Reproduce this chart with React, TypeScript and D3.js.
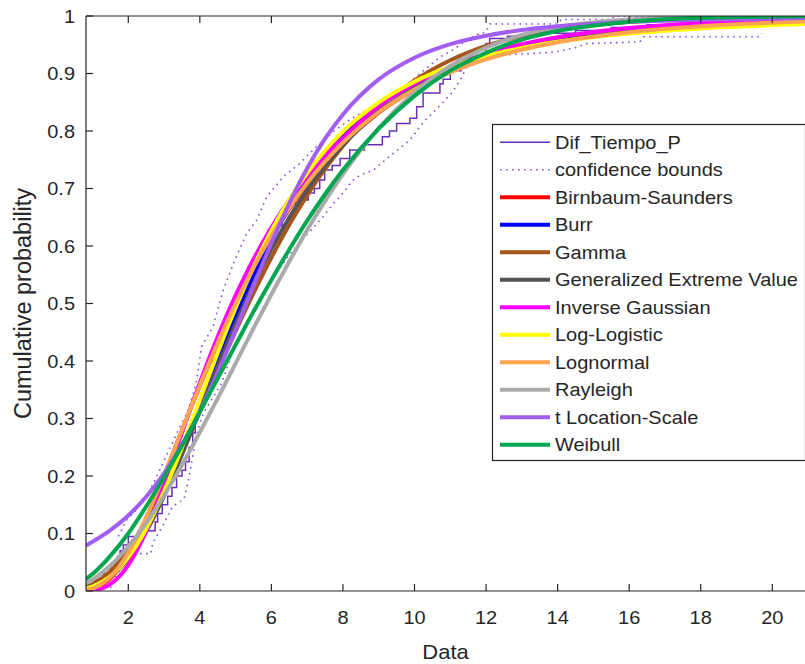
import React from "react";
import * as d3 from "d3";

// ---- data ----
const xGrid = [0.82, 1, 1.5, 2, 2.5, 3, 3.5, 4, 4.5, 5, 5.5, 6, 6.5, 7, 7.5, 8, 9, 10, 11, 12, 13, 14, 16, 18, 21];

const birnbaumSaunders = [0.001, 0.0035, 0.022, 0.064, 0.126, 0.2, 0.279, 0.357, 0.431, 0.499, 0.561, 0.616, 0.665, 0.708, 0.745, 0.778, 0.832, 0.872, 0.903, 0.926, 0.943, 0.956, 0.974, 0.984, 0.992];
const burr = [0.004, 0.007, 0.025, 0.058, 0.107, 0.17, 0.243, 0.322, 0.402, 0.478, 0.549, 0.612, 0.667, 0.715, 0.757, 0.792, 0.845, 0.883, 0.911, 0.932, 0.947, 0.959, 0.974, 0.983, 0.99];
const gamma = [0.0071, 0.012, 0.0343, 0.07, 0.1186, 0.177, 0.243, 0.3125, 0.383, 0.452, 0.518, 0.58, 0.637, 0.688, 0.734, 0.774, 0.84, 0.888, 0.923, 0.948, 0.965, 0.9766, 0.9898, 0.9956, 0.9988];
const genExtremeValue = [0.0052, 0.0083, 0.0248, 0.0559, 0.1035, 0.1653, 0.2372, 0.3139, 0.3907, 0.4645, 0.5329, 0.5947, 0.6495, 0.6977, 0.7395, 0.7756, 0.8332, 0.8753, 0.9061, 0.9288, 0.9455, 0.9579, 0.9743, 0.9838, 0.9914];
const inverseGaussian = [0.0003, 0.001, 0.012, 0.045, 0.104, 0.185, 0.275, 0.362, 0.442, 0.514, 0.577, 0.632, 0.68, 0.721, 0.757, 0.788, 0.843, 0.882, 0.912, 0.934, 0.951, 0.963, 0.979, 0.988, 0.995];
const logLogistic = [0.0043, 0.0077, 0.0255, 0.0585, 0.1082, 0.1733, 0.2498, 0.3319, 0.4144, 0.4925, 0.5636, 0.6265, 0.6808, 0.727, 0.7661, 0.799, 0.8498, 0.8859, 0.9118, 0.9306, 0.9446, 0.9552, 0.9695, 0.9784, 0.9863];
const lognormal = [0.0015, 0.0042, 0.0243, 0.0666, 0.128, 0.2014, 0.2796, 0.3575, 0.4317, 0.5003, 0.5623, 0.6178, 0.6667, 0.7096, 0.7471, 0.7797, 0.8326, 0.8722, 0.902, 0.9245, 0.9414, 0.9544, 0.9718, 0.9822, 0.9907];
const rayleigh = [0.0135, 0.02, 0.0443, 0.0775, 0.118, 0.166, 0.219, 0.276, 0.335, 0.396, 0.457, 0.516, 0.573, 0.628, 0.678, 0.725, 0.805, 0.867, 0.913, 0.945, 0.967, 0.981, 0.994, 0.9985, 0.9999];
const tLocationScale = [0.0793, 0.0856, 0.1057, 0.1314, 0.1639, 0.2044, 0.2538, 0.3128, 0.3804, 0.4542, 0.5306, 0.6052, 0.6743, 0.7351, 0.7866, 0.8288, 0.8897, 0.9274, 0.951, 0.9657, 0.9757, 0.982, 0.9896, 0.9934, 0.9965];
const weibull = [0.021, 0.0295, 0.061, 0.1, 0.147, 0.198, 0.253, 0.311, 0.37, 0.428, 0.486, 0.541, 0.594, 0.644, 0.69, 0.732, 0.804, 0.861, 0.905, 0.936, 0.959, 0.974, 0.99, 0.997, 0.9995];

const ecdfX = [0.82, 1.05, 1.3, 1.5, 1.62, 1.7, 1.77, 1.86, 2.0, 2.28, 2.75, 2.82, 2.95, 3.1, 3.22, 3.35, 3.5, 3.6, 3.7, 3.8, 3.87, 3.95, 4.05, 4.15, 4.25, 4.35, 4.45, 4.55, 4.65, 4.8, 4.95, 5.03, 5.2, 5.35, 5.55, 5.6, 5.8, 5.91, 6.1, 6.3, 6.43, 6.8, 7.03, 7.2, 7.35, 7.49, 7.7, 7.92, 8.19, 8.6, 9.1, 9.3, 9.5, 9.87, 10.06, 10.24, 10.71, 10.8, 11.0, 11.3, 11.6, 11.9, 12.0, 12.1, 12.6, 13.5, 14.5, 15.5, 16.5, 17.5, 19.7];
const ecdfP = [0.01, 0.02, 0.03, 0.04, 0.05, 0.06, 0.07, 0.08, 0.095, 0.105, 0.12, 0.135, 0.15, 0.165, 0.18, 0.2, 0.21, 0.225, 0.25, 0.275, 0.3, 0.32, 0.34, 0.36, 0.38, 0.4, 0.42, 0.44, 0.46, 0.48, 0.5, 0.518, 0.535, 0.564, 0.575, 0.59, 0.6, 0.628, 0.635, 0.655, 0.674, 0.68, 0.692, 0.7, 0.715, 0.732, 0.74, 0.752, 0.767, 0.776, 0.79, 0.8, 0.813, 0.822, 0.842, 0.866, 0.882, 0.89, 0.905, 0.915, 0.925, 0.935, 0.952, 0.961, 0.965, 0.97, 0.975, 0.98, 0.985, 0.99, 1.0];

const lowerX = [1.5, 1.65, 1.85, 2.03, 2.35, 2.63, 2.68, 2.95, 3.24, 3.56, 3.7, 3.8, 3.9, 4.1, 4.6, 5.0, 5.5, 6.0, 6.5, 7.0, 7.5, 7.73, 7.92, 8.29, 8.47, 8.85, 9.4, 9.87, 10.24, 10.6, 11.04, 11.27, 11.46, 11.83, 13.9, 14.5, 14.8, 16.3, 16.4, 19.65, 19.7];
const lowerP = [0.005, 0.025, 0.045, 0.06, 0.065, 0.065, 0.083, 0.112, 0.147, 0.16, 0.199, 0.234, 0.27, 0.31, 0.36, 0.43, 0.49, 0.54, 0.585, 0.62, 0.655, 0.674, 0.686, 0.715, 0.723, 0.732, 0.761, 0.784, 0.815, 0.837, 0.866, 0.888, 0.911, 0.93, 0.937, 0.945, 0.952, 0.955, 0.964, 0.964, 0.97];

const upperX = [1.72, 1.81, 1.95, 2.23, 2.56, 2.8, 3.1, 3.4, 3.65, 3.82, 3.91, 4.05, 4.37, 4.65, 4.98, 5.31, 5.59, 5.87, 6.33, 6.8, 7.26, 7.73, 8.2, 8.7, 9.2, 9.7, 10.15, 10.45, 10.71, 11.0, 11.4, 11.7, 12.0, 12.1, 14.0, 14.1, 15.5, 15.6, 19.7];
const upperP = [0.095, 0.106, 0.123, 0.141, 0.17, 0.2, 0.24, 0.28, 0.31, 0.344, 0.367, 0.425, 0.46, 0.523, 0.576, 0.622, 0.645, 0.686, 0.72, 0.744, 0.773, 0.799, 0.82, 0.838, 0.855, 0.876, 0.9, 0.915, 0.929, 0.938, 0.955, 0.967, 0.972, 0.986, 0.986, 0.994, 0.994, 1.0, 1.0];

const xTicks = [2, 4, 6, 8, 10, 12, 14, 16, 18, 20];
const yTicks = [0, 0.1, 0.2, 0.3, 0.4, 0.5, 0.6, 0.7, 0.8, 0.9, 1];
const yTickLabels = ["0", "0.1", "0.2", "0.3", "0.4", "0.5", "0.6", "0.7", "0.8", "0.9", "1"];

const fitNames = ["Birnbaum-Saunders", "Burr", "Gamma", "Generalized Extreme Value", "Inverse Gaussian", "Log-Logistic", "Lognormal", "Rayleigh", "t Location-Scale", "Weibull"];
const fitColors = ["#ff0000", "#0000ff", "#a6561b", "#545454", "#ff00ff", "#ffff00", "#ffa552", "#aaaaaa", "#a25df2", "#00a650"];
const fitValues = [birnbaumSaunders, burr, gamma, genExtremeValue, inverseGaussian, logLogistic, lognormal, rayleigh, tLocationScale, weibull];

const dataName = "Dif_Tiempo_P";
const boundsName = "confidence bounds";
const dataColor = "#6a2fb8";
const boundsColor = "#8a4ee0";
const axisColor = "#262626";
const FONT = "'Liberation Sans', Arial, Helvetica, sans-serif";

export default function App() {
  const W = 805, H = 664;
  const L = 86, R = 805, T = 16, B = 591;
  const x = d3.scaleLinear().domain([0.818, 20.914]).range([L, R]);
  const y = d3.scaleLinear().domain([0, 1]).range([B, T]);

  const smooth = d3.line<[number, number]>().x((d) => x(d[0])).y((d) => y(d[1])).curve(d3.curveMonotoneX);
  const linear = d3.line<[number, number]>().x((d) => x(d[0])).y((d) => y(d[1]));
  const stairs = d3.line<[number, number]>().x((d) => x(d[0])).y((d) => y(d[1])).curve(d3.curveStepAfter);

  const ecdfPts: [number, number][] = [[ecdfX[0], 0], ...ecdfX.map((v, i) => [v, ecdfP[i]] as [number, number])];
  const lowerPts = lowerX.map((v, i) => [v, lowerP[i]] as [number, number]);
  const upperPts = upperX.map((v, i) => [v, upperP[i]] as [number, number]);

  const legendX = 492.5, legendY = 124.5, legendW = 313, legendH = 336;
  const rowY = (i: number) => 142.3 + i * 27.5;
  const legendItems = [dataName, boundsName, ...fitNames];

  const txt = (tx: number, ty: number, s: string, anchor: string, size: number, key?: string) => (
    <text key={key} transform={`translate(${tx},${ty}) scale(1,0.9)`} textAnchor={anchor as any} fontSize={size} fontFamily={FONT} fill={axisColor}>
      {s}
    </text>
  );

  return (
    <div style={{ position: "absolute", left: 0, top: 0 }}>
      <svg width={W} height={H} style={{ display: "block", background: "#fff" }}>
        <defs>
          <clipPath id="plotClip">
            <rect x={L} y={T} width={R - L} height={B - T} />
          </clipPath>
        </defs>
        <rect x={0} y={0} width={W} height={H} fill="#fff" />

        <g clipPath="url(#plotClip)" fill="none">
          <path d={stairs(ecdfPts) || ""} stroke={dataColor} strokeWidth={1.5} />
          <path d={linear(lowerPts) || ""} stroke={boundsColor} strokeWidth={1.6} strokeDasharray="1.6 4.4" />
          <path d={linear(upperPts) || ""} stroke={boundsColor} strokeWidth={1.6} strokeDasharray="1.6 4.4" />
          {fitValues.map((vals, i) => (
            <path key={fitNames[i]} d={smooth(xGrid.map((v, j) => [v, vals[j]] as [number, number])) || ""} stroke={fitColors[i]} strokeWidth={4} strokeLinejoin="round" />
          ))}
        </g>

        {/* axes box */}
        <g stroke={axisColor} strokeWidth={1.2} fill="none">
          <line x1={L} y1={B} x2={R} y2={B} />
          <line x1={L} y1={T} x2={R} y2={T} />
          <line x1={L} y1={T} x2={L} y2={B} />
          {xTicks.map((t) => (
            <g key={"xt" + t}>
              <line x1={x(t)} y1={B} x2={x(t)} y2={B - 7} />
              <line x1={x(t)} y1={T} x2={x(t)} y2={T + 7} />
            </g>
          ))}
          {yTicks.map((t) => (
            <line key={"yt" + t} x1={L} y1={y(t)} x2={L + 7} y2={y(t)} />
          ))}
        </g>

        {xTicks.map((t) => txt(x(t), 624, String(t), "middle", 20, "xl" + t))}
        {yTicks.map((t, i) => txt(75, y(t) + 6.5, yTickLabels[i], "end", 20, "yl" + t))}
        {txt((L + R) / 2, 659, "Data", "middle", 22, "xlabel")}
        <text transform={`translate(31,${(T + B) / 2}) rotate(-90)`} textAnchor="middle" fontSize={23.5} fontFamily={FONT} fill={axisColor}>
          Cumulative probability
        </text>

        {/* legend */}
        <rect x={legendX} y={legendY} width={legendW} height={legendH} fill="#fff" stroke={axisColor} strokeWidth={1.2} />
        {legendItems.map((name, i) => {
          const cy = rowY(i);
          let line;
          if (i === 0) line = <line x1={500} y1={cy} x2={550} y2={cy} stroke={dataColor} strokeWidth={1.5} />;
          else if (i === 1) line = <line x1={500} y1={cy} x2={550} y2={cy} stroke={boundsColor} strokeWidth={1.6} strokeDasharray="1.6 4.4" />;
          else line = <line x1={500} y1={cy} x2={550} y2={cy} stroke={fitColors[i - 2]} strokeWidth={4} />;
          return (
            <g key={"lg" + i}>
              {line}
              {txt(555, cy + 6.5, name, "start", 20)}
            </g>
          );
        })}
      </svg>
    </div>
  );
}
